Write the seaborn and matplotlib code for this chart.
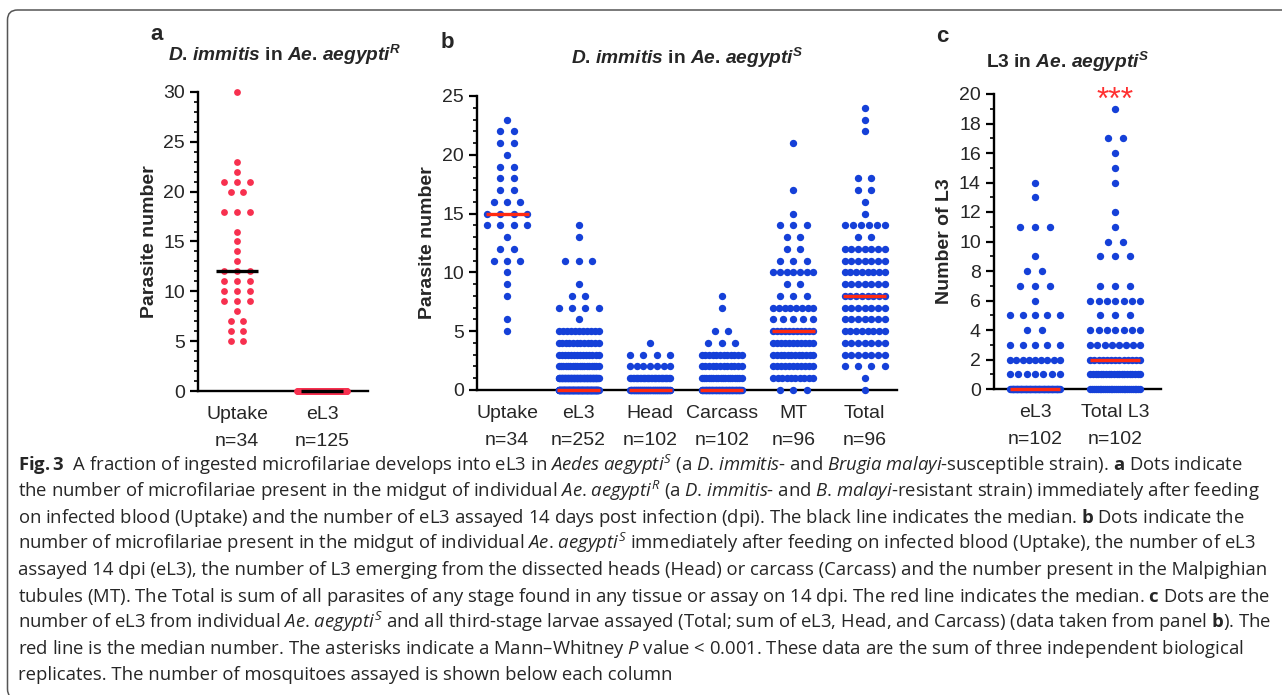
import numpy as np
import pandas as pd
import matplotlib
matplotlib.use("Agg")
import matplotlib.pyplot as plt
from matplotlib.patches import FancyBboxPatch
from matplotlib.transforms import IdentityTransform
from matplotlib.ticker import MultipleLocator
import seaborn as sns

# values: value -> number of mosquitoes at that value
# panel a, Ae. aegypti R
a_uptake_vals = [5, 6, 7, 8, 9, 10, 11, 12, 13, 14, 15, 16, 18, 20, 21, 22, 23, 30]
a_uptake_counts = [2, 2, 2, 1, 3, 3, 3, 3, 1, 1, 1, 1, 3, 2, 3, 1, 1, 1]
a_el3_vals = [0]
a_el3_counts = [125]

# panel b, Ae. aegypti S
b_uptake_vals = [5, 6, 8, 9, 10, 11, 12, 13, 14, 15, 16, 17, 18, 19, 20, 21, 22, 23]
b_uptake_counts = [1, 1, 1, 1, 1, 3, 2, 1, 4, 4, 3, 2, 2, 2, 1, 2, 2, 1]
b_el3_vals = [0, 1, 2, 3, 4, 5, 6, 7, 8, 9, 11, 13, 14]
b_el3_counts = [130, 54, 18, 14, 12, 11, 1, 4, 2, 1, 3, 1, 1]
b_head_vals = [0, 1, 2, 3, 4]
b_head_counts = [60, 30, 7, 4, 1]
b_carcass_vals = [0, 1, 2, 3, 4, 5, 7, 8]
b_carcass_counts = [53, 18, 12, 12, 3, 2, 1, 1]
b_mt_vals = [0, 1, 2, 3, 4, 5, 6, 7, 8, 9, 10, 11, 12, 13, 14, 15, 17, 21]
b_mt_counts = [3, 10, 11, 12, 11, 11, 5, 8, 3, 2, 7, 3, 2, 2, 3, 1, 1, 1]
b_total_vals = [0, 1, 2, 3, 4, 5, 6, 7, 8, 9, 10, 11, 12, 13, 14, 15, 16, 17, 18, 22, 23, 24]
b_total_counts = [1, 1, 4, 7, 7, 8, 7, 7, 8, 7, 8, 7, 7, 2, 6, 1, 1, 2, 2, 1, 1, 1]

# panel c, L3 in Ae. aegypti S
c_el3_vals = [0, 1, 2, 3, 4, 5, 6, 7, 8, 9, 11, 13, 14]
c_el3_counts = [62, 7, 9, 5, 2, 5, 1, 3, 2, 1, 3, 1, 1]
c_total_vals = [0, 1, 2, 3, 4, 5, 6, 7, 9, 10, 11, 12, 14, 15, 16, 17, 19]
c_total_counts = [28, 20, 13, 8, 7, 3, 7, 3, 3, 2, 1, 1, 1, 1, 1, 2, 1]

caption_lines = [
    r"$\mathbf{Fig.3}$  A fraction of ingested microfilariae develops into eL3 in $\mathit{Aedes}$ $\mathit{aegypti}^{\mathit{S}}$ (a $\mathit{D}$. $\mathit{immitis}$- and $\mathit{Brugia}$ $\mathit{malayi}$-susceptible strain). $\mathbf{a}$ Dots indicate",
    r"the number of microfilariae present in the midgut of individual $\mathit{Ae}$. $\mathit{aegypti}^{\mathit{R}}$ (a $\mathit{D}$. $\mathit{immitis}$- and $\mathit{B}$. $\mathit{malayi}$-resistant strain) immediately after feeding",
    r"on infected blood (Uptake) and the number of eL3 assayed 14 days post infection (dpi). The black line indicates the median. $\mathbf{b}$ Dots indicate the",
    r"number of microfilariae present in the midgut of individual $\mathit{Ae}$. $\mathit{aegypti}^{\mathit{S}}$ immediately after feeding on infected blood (Uptake), the number of eL3",
    r"assayed 14 dpi (eL3), the number of L3 emerging from the dissected heads (Head) or carcass (Carcass) and the number present in the Malpighian",
    r"tubules (MT). The Total is sum of all parasites of any stage found in any tissue or assay on 14 dpi. The red line indicates the median. $\mathbf{c}$ Dots are the",
    r"number of eL3 from individual $\mathit{Ae}$. $\mathit{aegypti}^{\mathit{S}}$ and all third-stage larvae assayed (Total; sum of eL3, Head, and Carcass) (data taken from panel $\mathbf{b}$). The",
    r"red line is the median number. The asterisks indicate a Mann–Whitney $\mathit{P}$ value < 0.001. These data are the sum of three independent biological",
    r"replicates. The number of mosquitoes assayed is shown below each column",
]
# right end of each caption line in the reference (px)
caption_ends = [1262, 1258, 1251, 1262, 1270, 1265, 1267, 1233, 718]

RED_DOT = "#F7304F"
BLUE_DOT = "#1540D8"
RED_LINE = "#FF2A12"

sns.set_theme(style="ticks")
plt.rcParams["font.family"] = ["Liberation Sans", "DejaVu Sans"]
plt.rcParams["mathtext.fontset"] = "custom"
plt.rcParams["mathtext.rm"] = "Open Sans"
plt.rcParams["mathtext.it"] = "Open Sans:italic"
plt.rcParams["mathtext.bf"] = "Open Sans:bold"
plt.rcParams["mathtext.bfit"] = "Liberation Sans:italic:bold"

W, H = 1282, 695


def spread(vals, counts, center, step, half):
    """Prism-like column scatter: dots at one value side by side, squeezed if too many."""
    xs, ys = [], []
    for v, k in zip(vals, counts):
        gap = step if k < 2 else min(step, 2 * half / (k - 1))
        offs = (np.arange(k) - (k - 1) / 2) * gap
        xs.extend(center + offs)
        ys.extend([v] * k)
    return xs, ys


def draw_panel(ax, groups, color, line_color, step, half, line_half, size, ymax, major, xlim, ylabel):
    frames = []
    for i, (name, vals, counts) in enumerate(groups):
        xs, ys = spread(vals, counts, i, step, half)
        frames.append(pd.DataFrame({"group": name, "x": xs, "value": ys}))
    df = pd.concat(frames, ignore_index=True)
    sns.scatterplot(data=df, x="x", y="value", color=color, s=size, linewidth=0,
                    clip_on=False, legend=False, ax=ax, zorder=3)
    med = df.groupby("group", sort=False)["value"].median()
    for i, name in enumerate(med.index):
        ax.hlines(med[name], i - line_half, i + line_half, color=line_color, lw=2.4,
                  zorder=4, clip_on=False)
    n = df.groupby("group", sort=False).size()
    ax.set_xticks(range(len(groups)))
    ax.set_xticklabels([f"{g}\nn={n[g]}" for g in n.index], fontsize=14)
    for lab in ax.get_xticklabels():
        lab.set_linespacing(1.72)
    ax.set_xlim(*xlim)
    ax.set_ylim(0, ymax)
    ax.yaxis.set_major_locator(MultipleLocator(major))
    ax.yaxis.set_minor_locator(MultipleLocator(1))
    ax.tick_params(axis="x", length=0, pad=11)
    ax.tick_params(axis="y", which="major", length=6, width=1.6, labelsize=14, pad=3.5, color="black")
    ax.tick_params(axis="y", which="minor", length=3, width=1.2, color="black")
    ax.set_xlabel("")
    ax.set_ylabel(ylabel, fontsize=14, fontweight="bold", labelpad=4)
    for side in ["left", "bottom"]:
        ax.spines[side].set_linewidth(1.7)
        ax.spines[side].set_color("black")
    sns.despine(ax=ax)
    ax.set_facecolor("white")


def axes_px(fig, left, right, top, bottom):
    return fig.add_axes([left / W, 1 - bottom / H, (right - left) / W, (bottom - top) / H])


fig = plt.figure(figsize=(W / 100, H / 100), dpi=100)
fig.patch.set_facecolor("white")

ax_a = axes_px(fig, 198, 368, 92, 391)
draw_panel(ax_a, [("Uptake", a_uptake_vals, a_uptake_counts), ("eL3", a_el3_vals, a_el3_counts)],
           RED_DOT, "black", 0.15, 0.29, 0.25, 24, 30, 5, (-0.46, 1.54), "Parasite number")

ax_b = axes_px(fig, 477, 897, 96, 390)
draw_panel(ax_b, [("Uptake", b_uptake_vals, b_uptake_counts), ("eL3", b_el3_vals, b_el3_counts),
                  ("Head", b_head_vals, b_head_counts), ("Carcass", b_carcass_vals, b_carcass_counts),
                  ("MT", b_mt_vals, b_mt_counts), ("Total", b_total_vals, b_total_counts)],
           BLUE_DOT, RED_LINE, 0.186, 0.28, 0.3, 28, 25, 5, (-0.42, 5.45), "Parasite number")

ax_c = axes_px(fig, 994, 1161, 94, 389)
draw_panel(ax_c, [("eL3", c_el3_vals, c_el3_counts), ("Total L3", c_total_vals, c_total_counts)],
           BLUE_DOT, RED_LINE, 0.1875, 0.31, 0.31, 28, 20, 2, (-0.51, 1.57), "Number of L3")
ax_c.text(1, 19.0, "***", color="#FF3030", fontsize=23, ha="center", va="baseline", zorder=5)

# panel letters and titles
for letter, x, y in [("a", 157, 35), ("b", 447, 42), ("c", 942, 36)]:
    fig.text(x / W, 1 - y / H, letter, fontsize=16, fontweight="bold", ha="center", va="center")

titles = [
    (r"$\mathbfit{D}$. $\mathbfit{immitis}$ in $\mathbfit{Ae}$. $\mathbfit{aegypti}^{\mathbfit{R}}$", 284, 55),
    (r"$\mathbfit{D}$. $\mathbfit{immitis}$ in $\mathbfit{Ae}$. $\mathbfit{aegypti}^{\mathbfit{S}}$", 687, 58),
    (r"L3 in $\mathbfit{Ae}$. $\mathbfit{aegypti}^{\mathbfit{S}}$", 1067, 62),
]
for txt, x, y in titles:
    fig.text(x / W, 1 - y / H, txt, fontsize=13.8, fontweight="bold", ha="center", va="center")

# caption, one font size fitted to the line ends of the reference
cap_texts = []
for i, line in enumerate(caption_lines):
    y = 471 + 26.1 * i
    cap_texts.append(fig.text(18 / W, 1 - y / H, line, fontsize=11.5, family="Open Sans",
                              color="#262626", ha="left", va="baseline"))
renderer = fig.canvas.get_renderer()
scales = [(end - 18) / t.get_window_extent(renderer).width for t, end in zip(cap_texts, caption_ends)]
scale = float(np.median(scales[:-1]))
for t in cap_texts:
    t.set_fontsize(11.5 * scale)

# rounded frame around the figure, bottom edge runs off the image
frame = FancyBboxPatch((7.5, -4), 1400, 689, boxstyle="round,pad=0,rounding_size=10",
                       transform=IdentityTransform(), fill=False, edgecolor="#555555", lw=1.1)
fig.add_artist(frame)

fig.savefig("out.png", dpi=100, facecolor="white")
